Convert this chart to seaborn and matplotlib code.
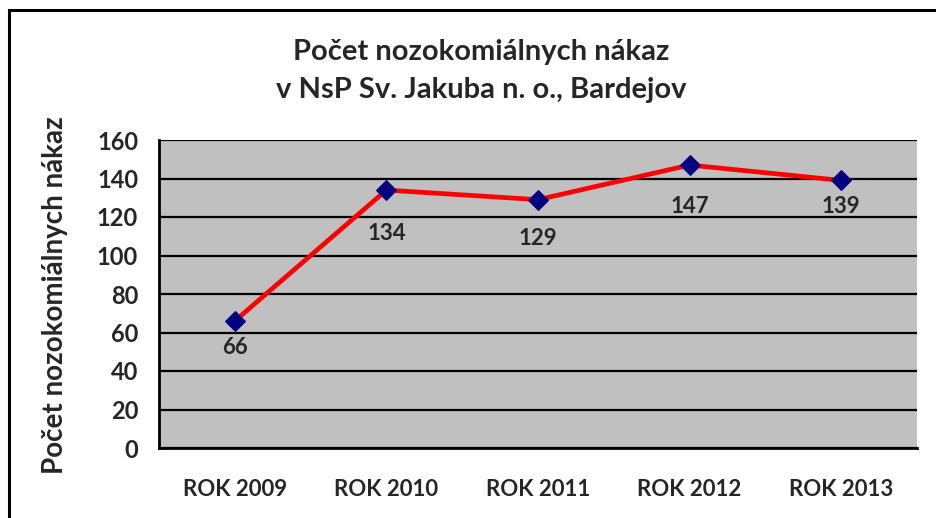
import matplotlib
matplotlib.use("Agg")
import matplotlib.pyplot as plt
import seaborn as sns
import pandas as pd
from matplotlib.patches import Rectangle

# data
years = ["ROK 2009", "ROK 2010", "ROK 2011", "ROK 2012", "ROK 2013"]
counts = [66, 134, 129, 147, 139]
y_ticks = [0, 20, 40, 60, 80, 100, 120, 140, 160]

title = "Počet nozokomiálnych nákaz\nv NsP Sv. Jakuba n. o., Bardejov"
y_label = "Počet nozokomiálnych nákaz"

# how far (points) each value label sits below its marker
label_drop = [19, 31, 28, 30, 19]

sns.set_style("white")
plt.rcParams["font.family"] = ["Lato", "DejaVu Sans"]
plt.rcParams["font.weight"] = "bold"

df = pd.DataFrame({"rok": years, "pocet": counts})

fig = plt.figure(figsize=(9.37, 5.18), dpi=100)
ax = fig.add_axes([159 / 937, 1 - 448 / 518, 758 / 937, 308 / 518])
ax.set_facecolor("#C0C0C0")

sns.lineplot(data=df, x="rok", y="pocet", sort=False, ax=ax,
             color="#FF0000", linewidth=3.4, marker="D", markersize=10,
             markerfacecolor="#000080", markeredgecolor="#000080", zorder=5)

for i, v in enumerate(counts):
    ax.annotate(str(v), (i, v), xytext=(0, -label_drop[i]), textcoords="offset points",
                ha="center", va="center", fontsize=16, fontweight="bold", zorder=6)

ax.set_xlim(-0.5, len(years) - 0.5)
ax.set_ylim(0, 160)
ax.set_yticks(y_ticks)
ax.yaxis.grid(True, color="black", linewidth=1.6)
ax.set_axisbelow(True)

# category labels at centers, tick marks at category boundaries
ax.set_xticks(range(len(years)))
ax.set_xticklabels(years)
ax.tick_params(axis="x", which="major", length=0, pad=22, labelsize=16)
ax.set_xticks([i - 0.5 for i in range(len(years) + 1)], minor=True)
ax.tick_params(axis="x", which="minor", length=7, width=1.6, direction="out", color="black")
ax.tick_params(axis="y", length=7, width=1.6, direction="out", color="black",
               labelsize=17, pad=8)
for lab in ax.get_xticklabels() + ax.get_yticklabels():
    lab.set_fontweight("bold")

for s in ["top", "right"]:
    ax.spines[s].set_visible(False)
for s in ["left", "bottom"]:
    ax.spines[s].set_color("black")
    ax.spines[s].set_linewidth(2)

ax.set_xlabel("")
ax.set_ylabel(y_label, fontsize=20, fontweight="bold")
ax.yaxis.set_label_coords(-(159 - 68) / 758, 0.5 - ((120 + 470) / 2 - 294) / 308)

fig.text(481 / 937, 1 - 71 / 518, title, ha="center", va="center",
         fontsize=21, fontweight="bold", linespacing=1.55)

# outer chart border
fig.patches.append(Rectangle((9 / 937, -0.1), 1.2, (1 - 10 / 518) + 0.1,
                             transform=fig.transFigure, fill=False,
                             edgecolor="black", linewidth=2.2))

fig.savefig("out.png", dpi=100)
